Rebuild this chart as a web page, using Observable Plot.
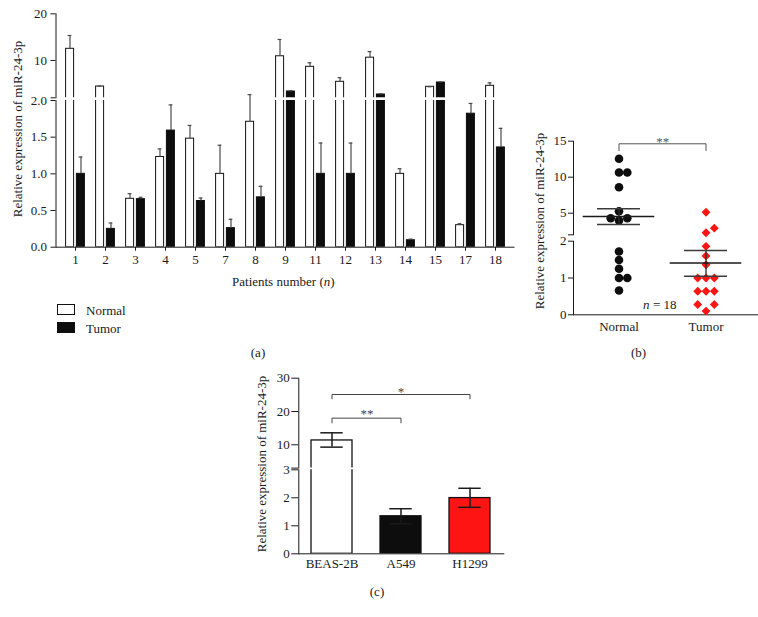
<!DOCTYPE html>
<html><head><meta charset="utf-8">
<script src="https://cdn.jsdelivr.net/npm/d3@7"></script>
<script src="https://cdn.jsdelivr.net/npm/@observablehq/plot@0.6"></script>
<style>
html,body{margin:0;padding:0;background:#fff;}
#fig{position:relative;width:758px;height:617px;overflow:hidden;font-family:"Liberation Serif","Times New Roman",serif;color:#1a1a1a;font-size:13px;background:#fff;}
#fig svg text{font-family:"Liberation Serif","Times New Roman",serif;font-size:13px;}
.lbl{position:absolute;white-space:nowrap;transform:translate(-50%,-50%);line-height:1;}
.lft{position:absolute;white-space:nowrap;transform:translate(0,-50%);line-height:1;}
.rot{position:absolute;white-space:nowrap;transform:translate(-50%,-50%) rotate(-90deg);line-height:1;}
.sw{position:absolute;box-sizing:border-box;border:1px solid #111;width:18.3px;height:11px;}
</style></head><body><div id="fig"></div>
<script>
// ---------- DATA ----------
// Panel (a): per-patient relative expression, bar value and top of error bar
const patients   = ["1","2","3","4","5","7","8","9","11","12","13","14","15","17","18"];
const normalMean = [12.5, 4.42, 0.66, 1.23, 1.48, 1.0, 1.71, 10.9, 8.64, 5.43, 10.6, 1.0, 4.36, 0.3, 4.57];
const normalTop  = [15.35, 4.5, 0.73, 1.34, 1.66, 1.39, 2.08, 14.5, 9.5, 6.3, 11.9, 1.07, 4.36, 0.32, 5.2];
const tumorMean  = [1.0, 0.25, 0.655, 1.59, 0.63, 0.26, 0.68, 3.35, 1.0, 1.0, 2.7, 0.095, 5.28, 1.82, 1.36];
const tumorTop   = [1.23, 0.33, 0.68, 1.94, 0.67, 0.38, 0.83, 3.5, 1.42, 1.42, 2.86, 0.11, 5.4, 1.96, 1.62];
const aTicksLow  = [0, 0.5, 1, 1.5, 2];
const aTicksHigh = [2, 10, 20];

// Panel (b): scatter of individual values, mean and SEM
const groups       = ["Normal", "Tumor"];
const normalPoints = [12.56, 10.65, 10.65, 8.6, 5.28, 3.99, 4.3, 4.3, 1.72, 1.49, 1.25, 1.0, 1.0, 0.66];
const tumorPoints  = [5.14, 2.28, 2.92, 1.86, 1.6, 1.36, 1.0, 1.0, 1.0, 0.64, 0.64, 0.64, 0.1, 0.28, 0.28];
const groupMean    = [4.54, 1.41];
const groupSemLow  = [3.43, 1.05];
const groupSemHigh = [5.61, 1.75];
const bBracket     = {from: "Normal", to: "Tumor", y: 14.64, leg: 13.7, label: "**"};
const bTicksLow    = [0, 1, 2];
const bTicksHigh   = [2, 5, 10, 15];
const nLabel       = 18;

// Panel (c): cell lines
const cellLines = ["BEAS-2B", "A549", "H1299"];
const cellMean  = [11.3, 1.34, 1.99];
const cellLow   = [9.3, 1.07, 1.66];
const cellHigh  = [13.6, 1.61, 2.34];
const cBrackets = [
  {from: "BEAS-2B", to: "A549", y: 18, leg: 16.6, label: "**"},
  {from: "BEAS-2B", to: "H1299", y: 25.1, leg: 23.8, label: "*"}
];
const cTicksLow  = [0, 1, 2, 3];
const cTicksHigh = [3, 10, 20, 30];

// ---------- STYLE ----------
const FONT = '"Liberation Serif","Times New Roman",serif';
const STYLE = `font-family:${FONT};font-size:13px;color:#1a1a1a;background:transparent;overflow:visible;`;
const RED = "#ff1414";
const ERR_A = "#4a4a4a";
const fig = document.getElementById("fig");
function place(svg, left, top) {
  svg.style.position = "absolute";
  svg.style.left = left + "px";
  svg.style.top = top + "px";
  svg.style.background = "transparent";
  fig.appendChild(svg);
}
function html(cls, x, y, content, bg) {
  const d = document.createElement("div");
  d.className = cls;
  d.style.left = x + "px";
  d.style.top = y + "px";
  if (bg) d.style.background = bg;
  d.innerHTML = content;
  fig.appendChild(d);
}
function bracketPoints(b) {
  return [{g: b.from, y: b.leg}, {g: b.from, y: b.y}, {g: b.to, y: b.y}, {g: b.to, y: b.leg}];
}
const plain = d => String(d);

// ---------- PANEL (a) ----------
const rowsA = patients.map((p, i) => ({patient: p, normal: normalMean[i], normalTop: normalTop[i], tumor: tumorMean[i], tumorTop: tumorTop[i]}));
const barN = {insetLeft: 5.6, insetRight: 16.4};
const barT = {insetLeft: 16.4, insetRight: 5.6};
const capN = {insetLeft: 7.6, insetRight: 18.6};
const capT = {insetLeft: 18.6, insetRight: 7.6};
const xA = {type: "band", domain: patients, padding: 0};

function aMarks(upper) {
  const brk = 2;
  const nRows = rowsA.filter(d => upper ? d.normal > brk : true);
  const tRows = rowsA.filter(d => upper ? d.tumor > brk : true);
  const nErr = rowsA.filter(d => upper ? d.normal > brk : d.normal <= brk);
  const tErr = rowsA.filter(d => upper ? d.tumor > brk : d.tumor <= brk);
  const base = upper ? () => brk - 0.5 : () => 0;
  const clampN = upper ? "normal" : d => Math.min(d.normal, brk + 0.3);
  const clampT = upper ? "tumor" : d => Math.min(d.tumor, brk + 0.3);
  return [
    Plot.barY(nRows, {x: "patient", y1: base, y2: clampN, fill: "white", stroke: "#111", strokeWidth: 1, clip: true, ...barN}),
    Plot.barY(tRows, {x: "patient", y1: base, y2: clampT, fill: "#0d0d0d", stroke: "#0d0d0d", strokeWidth: 1, clip: true, ...barT}),
    Plot.ruleX(nErr, {x: "patient", y1: "normal", y2: "normalTop", dx: -5.5, stroke: ERR_A, strokeWidth: 1.2}),
    Plot.tickY(nErr, {x: "patient", y: "normalTop", stroke: ERR_A, strokeWidth: 1.2, ...capN}),
    Plot.ruleX(tErr, {x: "patient", y1: "tumor", y2: "tumorTop", dx: 5.5, stroke: ERR_A, strokeWidth: 1.2}),
    Plot.tickY(tErr, {x: "patient", y: "tumorTop", stroke: ERR_A, strokeWidth: 1.2, ...capT})
  ];
}

const A1 = Plot.plot({
  width: 530, height: 100, marginLeft: 55.5, marginRight: 16.5, marginTop: 13.3, marginBottom: 2.7,
  style: STYLE,
  x: {...xA, axis: null},
  y: {domain: [2, 20], ticks: aTicksHigh, tickFormat: d => d === 2 ? "" : String(d), tickSize: 5, tickPadding: 4, line: true, label: null},
  marks: aMarks(true)
});
place(A1, 0, 0);

const A2 = Plot.plot({
  width: 530, height: 215, marginLeft: 55.5, marginRight: 16.5, marginTop: 15, marginBottom: 53.3,
  style: STYLE,
  x: {...xA, tickSize: 4, tickPadding: 4, line: true, label: null},
  y: {domain: [0, 2], ticks: aTicksLow, tickFormat: d3.format(".1f"), tickSize: 5, tickPadding: 4, line: true, label: null},
  marks: aMarks(false)
});
place(A2, 0, 85);

html("rot", 16.7, 129, "Relative expression of miR-24-3p");
html("lbl", 283.3, 281, "Patients number (<i>n</i>)");
html("sw", 56.7, 304, "", "#fff");
html("sw", 56.7, 322.3, "", "#0d0d0d");
html("lft", 86, 310, "Normal");
html("lft", 86, 327.5, "Tumor");
html("lbl", 258, 352, "(a)");

// ---------- PANEL (b) ----------
const B_UP = {domain: [2, 15], range: [234.3, 140.7]};
const B_LO = {domain: [0, 2], range: [314.3, 240.7]};
const yUpB = d3.scaleLinear(B_UP.domain, B_UP.range);
const yLoB = d3.scaleLinear(B_LO.domain, B_LO.range);
const pxB = v => v > 2 ? yUpB(v) : yLoB(v);
const STEP = 8.3;
function dodge(values, group) {
  const placed = [];
  return values.map(v => {
    const y = pxB(v);
    for (const k of [0, 1, -1, 2, -2]) {
      const x = k * STEP;
      if (placed.every(p => Math.hypot(p.x - x, p.y - y) >= 8.2)) {
        placed.push({x, y});
        return {group, value: v, col: k};
      }
    }
    return {group, value: v, col: 0};
  });
}
const ptsB = [...dodge(normalPoints, "Normal"), ...dodge(tumorPoints, "Tumor")];
const statsB = groups.map((g, i) => ({group: g, mean: groupMean[i], lo: groupSemLow[i], hi: groupSemHigh[i]}));
const diamond = d3.symbolDiamond2 || d3.symbolDiamond;
const xB = {type: "band", domain: groups, paddingInner: 0, paddingOuter: 0.0526, align: 0.17};

function bMarks(upper) {
  const inSeg = v => upper ? v > 2 : v <= 2;
  const marks = [];
  for (const k of [-2, -1, 0, 1, 2]) {
    const n = ptsB.filter(d => d.group === "Normal" && d.col === k && inSeg(d.value));
    const t = ptsB.filter(d => d.group === "Tumor" && d.col === k && inSeg(d.value));
    marks.push(Plot.dot(n, {x: "group", y: "value", r: 4.3, fill: "#0d0d0d", stroke: "none", dx: k * STEP}));
    marks.push(Plot.dot(t, {x: "group", y: "value", r: 4, symbol: diamond, fill: RED, stroke: "none", dx: k * STEP}));
  }
  const s = statsB.filter(d => inSeg(d.mean));
  marks.push(Plot.ruleX(s, {x: "group", y1: "lo", y2: "hi", stroke: "#2a2a2a", strokeWidth: 1.3}));
  marks.push(Plot.tickY(s, {x: "group", y: "mean", stroke: "#1a1a1a", strokeWidth: 1.5, insetLeft: 7.7, insetRight: 7.7}));
  marks.push(Plot.tickY(s, {x: "group", y: "lo", stroke: "#3a3a3a", strokeWidth: 1.5, insetLeft: 22, insetRight: 22}));
  marks.push(Plot.tickY(s, {x: "group", y: "hi", stroke: "#3a3a3a", strokeWidth: 1.5, insetLeft: 22, insetRight: 22}));
  return marks;
}

const B1 = Plot.plot({
  width: 238, height: 117, marginLeft: 53, marginRight: 1, marginTop: 20.7, marginBottom: 2.7,
  style: STYLE,
  x: {...xB, axis: null},
  y: {domain: [2, 15], ticks: bTicksHigh, tickFormat: d => d === 2 ? "" : String(d), tickSize: 5, tickPadding: 2, line: true, label: null},
  marks: [
    ...bMarks(true),
    Plot.line(bracketPoints(bBracket), {x: "g", y: "y", stroke: "#555", strokeWidth: 1}),
    Plot.text([bBracket], {x: "from", y: "y", text: "label", dx: 43.7, dy: 2, lineAnchor: "bottom", fill: "#555"})
  ]
});
place(B1, 520, 120);

const B2 = Plot.plot({
  width: 238, height: 115, marginLeft: 53, marginRight: 1, marginTop: 15.7, marginBottom: 25.7,
  style: STYLE,
  x: {...xB, tickSize: 0, tickPadding: 7, line: true, label: null},
  y: {domain: [0, 2], ticks: bTicksLow, tickFormat: plain, tickSize: 5, tickPadding: 2, line: true, label: null},
  marks: [
    ...bMarks(false),
    Plot.text([{g: "Normal", y: 0.28}], {x: "g", y: "y", text: () => "n", dx: 30.5, textAnchor: "end", fontStyle: "italic", fill: "#1a1a1a"}),
    Plot.text([{g: "Normal", y: 0.28}], {x: "g", y: "y", text: () => "= " + nLabel, dx: 34, textAnchor: "start", fill: "#1a1a1a"})
  ]
});
place(B2, 520, 225);

html("rot", 539, 221, "Relative expression of miR-24-3p");
html("lbl", 638.5, 352, "(b)");

// ---------- PANEL (c) ----------
const rowsC = cellLines.map((c, i) => ({cell: c, mean: cellMean[i], lo: cellLow[i], hi: cellHigh[i]}));
const xC = {type: "band", domain: cellLines, paddingInner: 0.406, paddingOuter: 0.168};
const colorC = {domain: cellLines, range: ["#ffffff", "#0d0d0d", RED]};

function cMarks(upper) {
  const brk = 3;
  const bars = rowsC.filter(d => upper ? d.mean > brk : true);
  const errs = rowsC.filter(d => upper ? d.mean > brk : d.mean <= brk);
  return [
    Plot.barY(bars, {x: "cell", y1: upper ? () => brk - 0.5 : () => 0, y2: upper ? "mean" : d => Math.min(d.mean, brk + 0.3), fill: "cell", stroke: "#111", strokeWidth: 1.3, clip: true}),
    Plot.ruleX(errs, {x: "cell", y1: "lo", y2: "hi", stroke: "#1a1a1a", strokeWidth: 1.5}),
    Plot.tickY(errs, {x: "cell", y: "hi", stroke: "#1a1a1a", strokeWidth: 1.5, insetLeft: 9.3, insetRight: 9.3}),
    Plot.tickY(errs, {x: "cell", y: "lo", stroke: "#1a1a1a", strokeWidth: 1.5, insetLeft: 9.3, insetRight: 9.3})
  ];
}

const C1 = Plot.plot({
  width: 290, height: 110, marginLeft: 68.3, marginRight: 16.7, marginTop: 17.7, marginBottom: 2.4,
  style: STYLE,
  x: {...xC, axis: null},
  y: {domain: [3, 30], ticks: cTicksHigh, tickFormat: d => d === 3 ? "" : String(d), tickSize: 7, tickPadding: 2, line: true, label: null},
  color: colorC,
  marks: [
    ...cMarks(true),
    ...cBrackets.map(b => Plot.line(bracketPoints(b), {x: "g", y: "y", stroke: "#444", strokeWidth: 1})),
    Plot.text([cBrackets[0]], {x: "from", y: "y", text: "label", dx: 35, dy: 0, lineAnchor: "bottom", fill: "#444"}),
    Plot.text([cBrackets[1]], {x: () => "A549", y: "y", text: "label", dy: 1, lineAnchor: "bottom", fill: "#444"})
  ]
});
place(C1, 230, 360);

const C2 = Plot.plot({
  width: 290, height: 125, marginLeft: 68.3, marginRight: 16.7, marginTop: 14.3, marginBottom: 26.7,
  style: STYLE,
  x: {...xC, tickSize: 0, tickPadding: 5, line: true, label: null},
  y: {domain: [0, 3], ticks: cTicksLow, tickFormat: plain, tickSize: 7, tickPadding: 2, line: true, label: null},
  color: colorC,
  marks: cMarks(false)
});
place(C2, 230, 455);

html("rot", 261, 464, "Relative expression of miR-24-3p");
html("lbl", 377, 591, "(c)");
</script></body></html>
